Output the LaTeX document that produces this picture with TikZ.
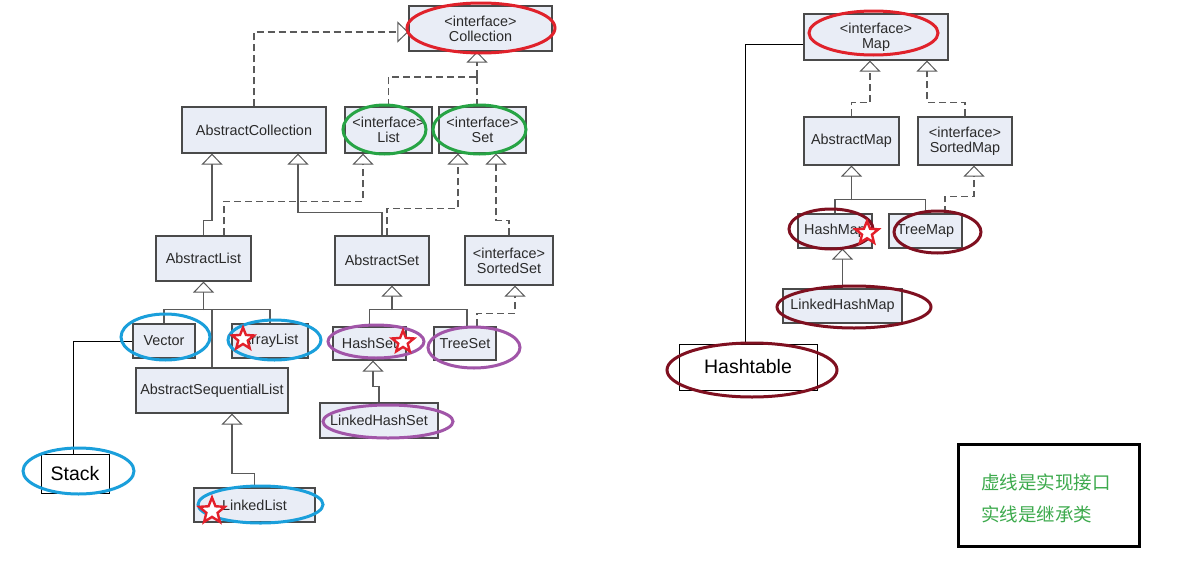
\documentclass[tikz,border=0pt]{standalone}
\usepackage{fontspec}
\setmainfont{Liberation Sans}
\newfontfamily\cjk{Noto Sans CJK SC}
\usetikzlibrary{arrows.meta,shapes.geometric,calc,shadows}
\definecolor{boxfill}{HTML}{E9EDF6}
\definecolor{boxline}{HTML}{4A4A4A}
\definecolor{boxtext}{HTML}{2A2A2A}
\definecolor{connc}{HTML}{5A5A5A}
\definecolor{ringred}{HTML}{E0222B}
\definecolor{ringgreen}{HTML}{27A445}
\definecolor{ringblue}{HTML}{1A9FDB}
\definecolor{ringpurple}{HTML}{A155A8}
\definecolor{ringdark}{HTML}{7F1020}
\definecolor{starred}{HTML}{E3202A}
\definecolor{legtext}{HTML}{3DAA4D}
\begin{document}
\begin{tikzpicture}[x=1pt,y=-1pt,
  box/.style={draw=boxline, fill=boxfill, line width=1.2pt, inner sep=0pt, align=center, text=boxtext, font=\fontsize{14.4}{15}\selectfont,
    drop shadow={shadow xshift=1.3pt, shadow yshift=-1.3pt, fill=black!60, opacity=1}},
  wbox/.style={draw=black, fill=white, line width=1pt, inner sep=0pt, text=black, font=\fontsize{19.5}{20}\selectfont},
  conn/.style={draw=connc, line width=1.5pt},
  inh/.style={conn, -{Triangle[length=11pt,width=21pt,fill=white,line width=1pt]}},
  impl/.style={inh, dash pattern=on 7pt off 4pt},
  dline/.style={conn, dash pattern=on 7pt off 4pt},
  thinl/.style={draw=black, line width=1pt},
  ring/.style={line width=3pt},
  redstar/.style={star, star points=5, star point ratio=2.3, draw=starred, fill=white, line width=2.4pt, inner sep=0pt}
]
\useasboundingbox[fill=white] (0,0) rectangle (1202,565);

% ---------- boxes ----------
\node[box, minimum width=143pt, minimum height=45pt] (coll) at (480.5,28.5) {<interface>\\Collection};
\node[box, minimum width=144pt, minimum height=46pt] (abscoll) at (254,130) {AbstractCollection};
\node[box, minimum width=87pt, minimum height=46pt] (list) at (388.5,130) {<interface>\\List};
\node[box, minimum width=87pt, minimum height=46pt] (set) at (482.5,130) {<interface>\\Set};
\node[box, minimum width=95pt, minimum height=45pt] (abslist) at (203.5,258.5) {AbstractList};
\node[box, minimum width=94pt, minimum height=49pt] (absset) at (382,260.5) {AbstractSet};
\node[box, minimum width=88pt, minimum height=49pt] (sortedset) at (509,260.5) {<interface>\\SortedSet};
\node[box, minimum width=62pt, minimum height=34pt] (vector) at (164,341) {Vector};
\node[box, minimum width=76pt, minimum height=34pt] (arraylist) at (270,341) {ArrayList};
\node[box, minimum width=152pt, minimum height=45pt] (asl) at (212,390.5) {AbstractSequentialList};
\node[box, minimum width=73pt, minimum height=33pt] (hashset) at (369.5,343.5) {HashSet};
\node[box, minimum width=62pt, minimum height=33pt] (treeset) at (465,343.5) {TreeSet};
\node[box, minimum width=118pt, minimum height=35pt] (lhs) at (379,420.5) {LinkedHashSet};
\node[wbox, minimum width=68pt, minimum height=39pt] (stack) at (75,473.5) {Stack};
\node[box, minimum width=121pt, minimum height=34pt] (linkedlist) at (254.5,505) {LinkedList};

\node[box, minimum width=144pt, minimum height=46pt] (map) at (876,37) {<interface>\\Map};
\node[box, minimum width=95pt, minimum height=48pt] (absmap) at (851.5,141) {AbstractMap};
\node[box, minimum width=94pt, minimum height=48pt] (sortedmap) at (965,141) {<interface>\\SortedMap};
\node[box, minimum width=74pt, minimum height=34pt] (hashmap) at (835,231) {HashMap};
\node[box, minimum width=73pt, minimum height=34pt] (treemap) at (925.5,231) {TreeMap};
\node[box, minimum width=119pt, minimum height=34pt] (lhm) at (842.5,306) {LinkedHashMap};
\node[wbox, minimum width=138pt, minimum height=46pt] (hashtable) at (748,367) {Hashtable};

% ---------- connectors: collection side ----------
\draw[impl] (abscoll.north) |- ([yshift=-3.5pt]coll.west);
\coordinate (j1) at (477,77);
\draw[dline] (list.north) |- (j1);
\draw[dline] (set.north -| j1) -- (j1);
\draw[impl] (j1) -- (j1 |- coll.south);

\draw[inh] (abslist.north) -- ++(0,-15) -| ([xshift=-42pt]abscoll.south);
\draw[impl] ([xshift=20.5pt]abslist.north) -- ++(0,-34) -| ([xshift=-25.5pt]list.south);
\draw[inh] (absset.north) -- ++(0,-23) -| ([xshift=44pt]abscoll.south);
\draw[impl] ([xshift=5pt]absset.north) -- ++(0,-27) -| ([xshift=-24.5pt]set.south);
\draw[impl] (sortedset.north) -- ++(0,-15) -| ([xshift=13.5pt]set.south);

\draw[conn] (vector.north) -- ++(0,-14) -| (arraylist.north);
\draw[conn] (asl.north) -- ++(0,-58);
\coordinate (bus1) at (203.5,310);
\draw[inh] (bus1) -- (abslist.south);

\draw[conn] (hashset.north) -- ++(0,-17) -| ([xshift=2pt]treeset.north);
\coordinate (bus2) at (392,310);
\draw[inh] (bus2) -- (bus2 |- absset.south);
\draw[impl] ([xshift=12pt]treeset.north) -- ++(0,-13) -| ([xshift=6pt]sortedset.south);
\draw[inh] (lhs.north) -- ++(0,-16) -| ([xshift=3.5pt]hashset.south);

\draw[thinl] (vector.west) -| ([xshift=-2pt]stack.north);
\draw[inh] (linkedlist.north) -- ++(0,-14) -| ([xshift=20pt]asl.south);

% ---------- connectors: map side ----------
\draw[impl] (absmap.north) -- ++(0,-14) -| ([xshift=-6pt]map.south);
\draw[impl] (sortedmap.north) -- ++(0,-14) -| ([xshift=51pt]map.south);
\draw[conn] (hashmap.north) -- ++(0,-14) -| (treemap.north);
\coordinate (bus3) at (851.5,200);
\draw[inh] (bus3) -- (absmap.south);
\draw[impl] ([xshift=19.5pt]treemap.north) -- ++(0,-17) -| ([xshift=9pt]sortedmap.south);
\draw[inh] (lhm.north) -- (lhm.north |- hashmap.south);
\draw[thinl] ([yshift=-7pt]map.west) -| ([xshift=-3pt]hashtable.north);

% ---------- annotation rings ----------
\draw[ring, ringred] (481,28) ellipse [x radius=74, y radius=25];
\draw[ring, ringgreen] (384.5,129.5) ellipse [x radius=41.5, y radius=24.5];
\draw[ring, ringgreen] (479.5,129.5) ellipse [x radius=46.5, y radius=24.5];
\draw[ring, ringblue] (165.5,337) ellipse [x radius=44.5, y radius=23];
\draw[ring, ringblue] (274.5,340) ellipse [x radius=46.5, y radius=20];
\draw[ring, ringpurple] (376,341.5) ellipse [x radius=48, y radius=16.5];
\draw[ring, ringpurple] (474,347.5) ellipse [x radius=46, y radius=20.5];
\draw[ring, ringpurple] (388,421.5) ellipse [x radius=65, y radius=16.5];
\draw[ring, ringblue] (78.5,471) ellipse [x radius=55.5, y radius=23];
\draw[ring, ringblue] (260.5,504.5) ellipse [x radius=62.5, y radius=18.5];
\draw[ring, ringred] (873.5,33) ellipse [x radius=64.5, y radius=22];
\draw[ring, ringdark] (831,229) ellipse [x radius=42, y radius=20];
\draw[ring, ringdark] (937.5,232) ellipse [x radius=43.5, y radius=21];
\draw[ring, ringdark] (854,307) ellipse [x radius=77, y radius=21];
\draw[ring, ringdark] (752,370) ellipse [x radius=85, y radius=27];

% ---------- stars ----------
\node[redstar, minimum size=23pt] (st1) at (243,339) {};
\node[redstar, minimum size=23pt] (st2) at (403,342) {};
\node[redstar, minimum size=27pt] (st3) at (212,511) {};
\node[redstar, minimum size=24pt] (st4) at (867,233) {};

% ---------- legend ----------
\node[draw=black, line width=3pt, minimum width=181pt, minimum height=102pt, inner sep=0pt] (legend) at (1048.5,495) {};
\node[anchor=west, inner sep=0pt, text=legtext, font=\cjk\fontsize{18.5}{20}\selectfont] (leg1) at (981,482) {虚线是实现接口};
\node[anchor=west, inner sep=0pt, text=legtext, font=\cjk\fontsize{18.5}{20}\selectfont] (leg2) at (981,514) {实线是继承类};
\end{tikzpicture}
\end{document}
